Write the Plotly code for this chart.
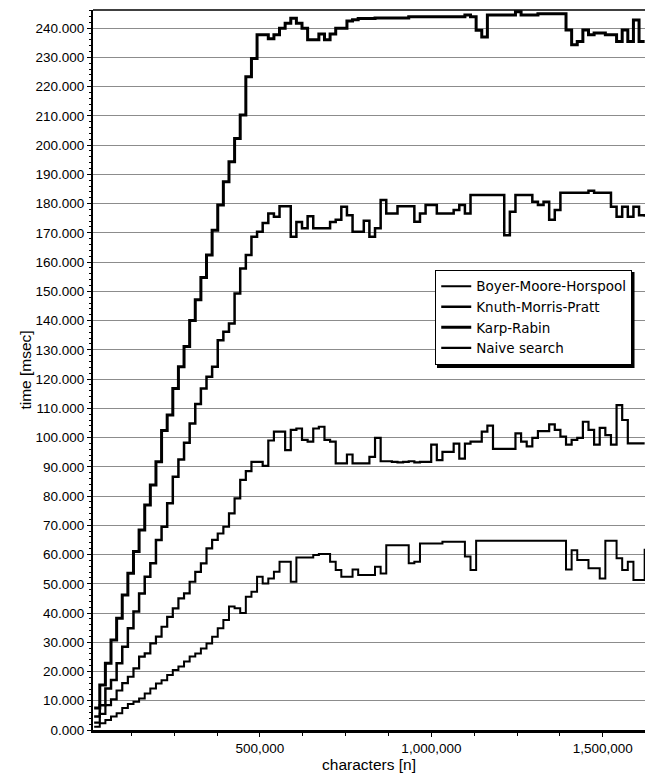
import plotly.graph_objects as go

# Sample size grows in blocks of 16,384 characters
STEP = 16384

# Measured run times in units of 1,000 msec, one value per block
karp_rabin = [
    7.5, 15.4, 22.8, 30.8, 38.2, 46.2, 53.6, 61.0, 68.4, 76.9,
    83.8, 91.7, 102.4, 107.7, 116.8, 124.2, 131.1, 140.0, 147.1, 154.7,
    162.4, 170.9, 179.5, 187.5, 194.3, 202.3, 210.3, 223.4, 229.6, 237.7,
    237.7, 236.4, 237.7, 240.0, 241.7, 243.4, 241.7, 240.0, 236.0, 236.0,
    238.0, 236.0, 238.0, 240.0, 240.0, 242.4, 242.9, 243.3, 243.3, 243.3,
    243.5, 243.5, 243.5, 243.5, 243.5, 243.5, 243.9, 243.9, 243.9, 243.9,
    243.9, 243.9, 243.9, 243.9, 243.9, 243.9, 244.5, 243.9, 239.3, 237.0,
    244.5, 244.5, 244.5, 244.5, 244.5, 245.6, 244.5, 244.5, 244.5, 244.9,
    244.9, 244.9, 244.9, 244.9, 239.4, 234.3, 235.4, 239.4, 237.7, 238.3,
    238.3, 237.7, 237.7, 235.4, 239.4, 235.4, 242.8, 235.4, 235.4,
]

knuth_morris_pratt = [
    4.6, 8.5, 14.2, 17.1, 22.8, 28.5, 34.8, 40.5, 46.7, 52.4,
    57.0, 65.0, 69.5, 77.5, 86.6, 92.5, 98.2, 104.8, 111.5, 116.8,
    120.8, 124.2, 133.3, 136.2, 139.0, 149.3, 157.8, 162.4, 168.7, 170.4,
    173.4, 176.6, 175.5, 179.1, 179.1, 168.7, 173.7, 171.6, 175.7, 171.6,
    171.6, 171.6, 173.7, 174.5, 178.9, 176.0, 170.4, 170.4, 174.1, 168.7,
    171.6, 181.2, 176.6, 176.6, 179.1, 179.1, 179.1, 173.8, 176.6, 179.5,
    179.5, 176.6, 176.6, 176.6, 177.8, 179.5, 176.6, 182.9, 182.9, 182.9,
    182.9, 182.9, 182.9, 169.2, 177.2, 182.9, 182.9, 182.9, 180.6, 179.5,
    180.6, 174.5, 177.8, 183.7, 183.7, 183.7, 183.7, 183.7, 184.4, 183.7,
    183.7, 183.7, 178.9, 175.5, 178.9, 175.5, 178.9, 176.0, 175.5,
]

naive_search = [
    2.5, 5.5, 8.5, 10.5, 13.5, 16.0, 18.2, 21.1, 25.1, 26.2,
    29.6, 31.9, 35.3, 38.7, 41.6, 45.0, 46.7, 50.7, 54.1, 57.0,
    62.1, 65.0, 67.2, 69.5, 74.1, 79.2, 85.5, 88.5, 91.7, 91.7,
    90.3, 99.0, 102.0, 102.0, 95.7, 102.6, 103.1, 99.2, 98.6, 103.1,
    103.7, 99.2, 98.6, 91.2, 91.2, 94.2, 91.2, 91.2, 91.2, 93.4,
    99.9, 91.9, 91.9, 91.7, 91.5, 91.7, 91.9, 91.5, 91.7, 91.7,
    97.6, 92.3, 95.1, 95.1, 97.9, 92.8, 97.9, 98.6, 98.6, 102.0,
    104.1, 96.1, 96.1, 96.1, 96.1, 101.4, 98.6, 97.0, 99.9, 102.2,
    102.2, 104.5, 102.6, 100.3, 97.6, 99.2, 99.9, 105.4, 102.6, 97.6,
    103.3, 100.8, 97.6, 111.1, 106.0, 98.0, 98.0, 98.0, 98.0,
]

boyer_moore_horspool = [
    1.1, 2.3, 3.4, 4.6, 5.7, 7.5, 8.9, 9.7, 10.8, 12.5,
    14.2, 15.9, 17.0, 18.8, 20.5, 21.7, 23.4, 25.1, 26.2, 27.9,
    29.6, 31.9, 34.8, 37.6, 42.2, 41.6, 40.0, 45.6, 47.3, 52.4,
    50.1, 51.8, 54.1, 57.5, 57.5, 50.7, 59.0, 59.0, 59.0, 59.8,
    60.2, 60.2, 57.5, 54.7, 52.4, 52.4, 54.9, 53.0, 53.0, 53.0,
    55.8, 53.5, 63.2, 63.2, 63.2, 63.2, 57.0, 57.5, 63.8, 63.8,
    63.8, 63.8, 64.4, 64.4, 64.4, 64.4, 59.3, 54.7, 64.7, 64.7,
    64.7, 64.7, 64.7, 64.7, 64.7, 64.7, 64.7, 64.7, 64.7, 64.7,
    64.7, 64.7, 64.7, 64.7, 54.9, 61.5, 58.1, 58.1, 55.3, 55.3,
    51.8, 64.7, 64.7, 58.7, 54.7, 57.5, 51.3, 51.3, 62.0,
]

series = [
    ("Boyer-Moore-Horspool", boyer_moore_horspool, 2.0),
    ("Knuth-Morris-Pratt", knuth_morris_pratt, 2.5),
    ("Karp-Rabin", karp_rabin, 3.0),
    ("Naive search", naive_search, 2.2),
]

y_ticks = list(range(0, 250, 10))
y_labels = [f"{v}.000" for v in y_ticks]

FONT = "Liberation Sans, Arial, sans-serif"
LEGEND_FONT = "DejaVu Sans, sans-serif"

fig = go.Figure()
for name, values, width in series:
    xs = [STEP * (i + 1) for i in range(len(values))]
    ys = [v * 1000 for v in values]
    fig.add_trace(go.Scatter(
        x=xs, y=ys, name=name, mode="lines",
        line=dict(color="black", width=width, shape="hv"),
    ))

fig.update_layout(
    width=645, height=775,
    margin=dict(l=93, r=0, t=10, b=45),
    paper_bgcolor="white", plot_bgcolor="white",
    font=dict(family=FONT, color="black", size=13),
    showlegend=True,
    legend=dict(
        x=0.62, y=0.639, xanchor="left", yanchor="top",
        bgcolor="white", bordercolor="black", borderwidth=1,
        font=dict(family=LEGEND_FONT, size=13.5, color="black"),
        tracegroupgap=0, itemwidth=30,
    ),
    xaxis=dict(
        range=[13000, 1623000],
        tickvals=[500000, 1000000, 1500000],
        tickformat=",d",
        ticks="outside", ticklen=4, tickcolor="black", tickwidth=1,
        minor=dict(dtick=125000, tick0=0, ticks="outside", ticklen=3,
                   tickcolor="black", showgrid=False),
        showline=True, linecolor="black", linewidth=3,
        showgrid=False, zeroline=False,
        tickfont=dict(size=13.5, color="black"),
        title=dict(text="characters [n]",
                   font=dict(size=15.5, color="black"), standoff=4),
    ),
    yaxis=dict(
        range=[0, 246200],
        tickvals=[v * 1000 for v in y_ticks],
        ticktext=y_labels,
        ticks="outside", ticklen=4, tickcolor="black", tickwidth=1,
        minor=dict(dtick=2000, tick0=0, ticks="outside", ticklen=2,
                   tickcolor="black", showgrid=False),
        showline=True, linecolor="black", linewidth=2,
        showgrid=True, gridcolor="#8c8c8c", gridwidth=1,
        zeroline=False,
        tickfont=dict(size=13.5, color="black"),
        title=dict(text="time [msec]",
                   font=dict(size=15.5, color="black"), standoff=0),
    ),
)

# Frame line along the top of the plot area
fig.add_shape(type="line", xref="paper", yref="paper",
              x0=0, x1=1, y0=1, y1=1,
              line=dict(color="black", width=1.5))

# Drop shadow behind the legend box
fig.add_shape(type="rect", xref="paper", yref="paper", layer="above",
              x0=0.6232, x1=0.981, y0=0.5028, y1=0.6361,
              fillcolor="black", line=dict(width=0))

fig.write_html("out.html")
